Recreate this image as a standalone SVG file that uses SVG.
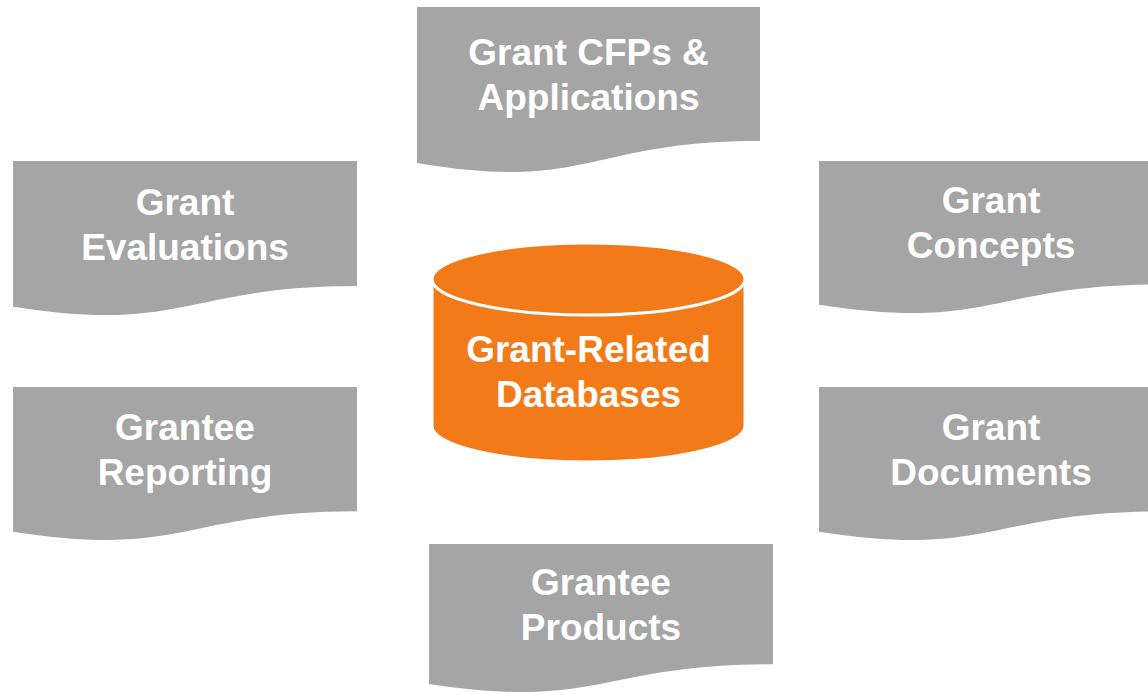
<svg xmlns="http://www.w3.org/2000/svg" width="1148" height="695" viewBox="0 0 1148 695">
<style>
.doc{fill:#A5A5A5;}
.lbl{font-family:"Liberation Sans",Arial,sans-serif;font-weight:bold;font-size:37px;fill:#FFFFFF;text-anchor:middle;}
.cyl{fill:#F37A18;stroke:#FFFFFF;stroke-width:3;}
</style>
<rect width="1148" height="695" fill="#FFFFFF"/>
<g id="connectors"></g>
<g id="node-cfps">
<path class="doc" d="M417,7 H760 V140.9 C588.5,140.9 588.5,192 417,163 Z"/>
<text class="lbl" x="588.5" y="65">Grant CFPs &amp;</text>
<text class="lbl" x="588.5" y="110">Applications</text>
</g>
<g id="node-evaluations">
<path class="doc" d="M13,161 H357 V286.1 C185,286.1 185,333.8 13,306.7 Z"/>
<text class="lbl" x="185" y="215">Grant</text>
<text class="lbl" x="185" y="260">Evaluations</text>
</g>
<g id="node-concepts">
<path class="doc" d="M819,161 H1163 V284.5 C991,284.5 991,331.6 819,304.8 Z"/>
<text class="lbl" x="991" y="213">Grant</text>
<text class="lbl" x="991" y="258">Concepts</text>
</g>
<g id="node-reporting">
<path class="doc" d="M13,387 H357 V511.3 C185,511.3 185,558.7 13,531.8 Z"/>
<text class="lbl" x="185" y="440">Grantee</text>
<text class="lbl" x="185" y="485">Reporting</text>
</g>
<g id="node-documents">
<path class="doc" d="M819,387 H1163 V511.3 C991,511.3 991,558.7 819,531.8 Z"/>
<text class="lbl" x="991" y="440">Grant</text>
<text class="lbl" x="991" y="485">Documents</text>
</g>
<g id="node-products">
<path class="doc" d="M429,544 H773 V664.3 C601,664.3 601,710.1 429,684.1 Z"/>
<text class="lbl" x="601" y="595">Grantee</text>
<text class="lbl" x="601" y="640">Products</text>
</g>
<g id="node-databases">
<path class="cyl" d="M432,279 V426 A156.5,36 0 0 0 745,426 V279 A156.5,36 0 0 0 432,279 Z"/>
<ellipse class="cyl" cx="588.5" cy="279" rx="156.5" ry="36"/>
<text class="lbl" x="588.5" y="362">Grant-Related</text>
<text class="lbl" x="588.5" y="407">Databases</text>
</g>
</svg>
